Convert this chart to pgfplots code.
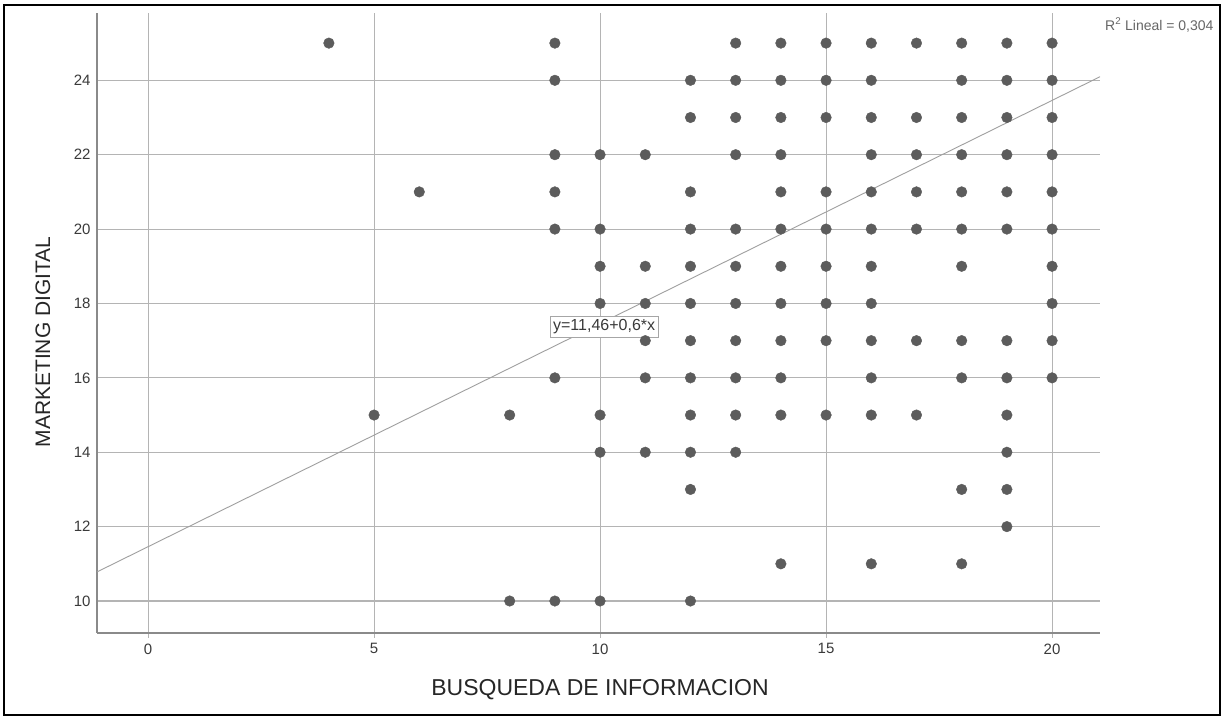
\documentclass[border=0pt]{standalone}
\usepackage{fontspec}
\setmainfont{Liberation Sans}
\usepackage{pgfplots}
\pgfplotsset{compat=1.18}
\definecolor{dotgray}{HTML}{5C5C5C}
\definecolor{gridgray}{HTML}{B4B4B4}
\definecolor{axgray}{HTML}{8A8A8A}
\definecolor{txtgray}{HTML}{3A3A3A}
\pgfplotstableread{
x y
4 25
9 25
13 25
14 25
15 25
16 25
17 25
18 25
19 25
20 25
9 24
12 24
13 24
14 24
15 24
16 24
18 24
19 24
20 24
12 23
13 23
14 23
15 23
16 23
17 23
18 23
19 23
20 23
9 22
10 22
11 22
13 22
14 22
16 22
17 22
18 22
19 22
20 22
6 21
9 21
12 21
14 21
15 21
16 21
17 21
18 21
19 21
20 21
9 20
10 20
12 20
13 20
14 20
15 20
16 20
17 20
18 20
19 20
20 20
10 19
11 19
12 19
13 19
14 19
15 19
16 19
18 19
20 19
10 18
11 18
12 18
13 18
14 18
15 18
16 18
20 18
11 17
12 17
13 17
14 17
15 17
16 17
17 17
18 17
19 17
20 17
9 16
11 16
12 16
13 16
14 16
16 16
18 16
19 16
20 16
5 15
8 15
10 15
12 15
13 15
14 15
15 15
16 15
17 15
19 15
10 14
11 14
12 14
13 14
19 14
12 13
18 13
19 13
19 12
14 11
16 11
18 11
8 10
9 10
10 10
12 10
}\pts
\begin{document}
\begin{tikzpicture}
\useasboundingbox (0,0) rectangle (1225pt,719pt);
\fill[white] (0,0) rectangle (1225pt,719pt);
\draw[line width=2pt,black] (4pt,4pt) rectangle (1220pt,714pt);
\begin{axis}[
  at={(97pt,86pt)}, anchor=south west,
  scale only axis, width=1003pt, height=620pt,
  xmin=-1.13, xmax=21.06, ymin=9.14, ymax=25.81,
  axis x line*=bottom, axis y line*=left,
  axis line style={-, draw=axgray, line width=2pt},
  xtick={0,5,10,15,20}, ytick={10,12,14,16,18,20,22,24},
  grid=major, major grid style={gridgray, line width=1.1pt},
  tick align=outside, major tick length=5pt,
  tick style={gridgray, line width=1.1pt},
  ytick style={draw=none},
  ticklabel style={font=\fontsize{15}{17}\selectfont, text=txtgray},
  xticklabel style={yshift=-2pt},
  yticklabel style={xshift=2pt},
  /pgf/number format/assume math mode=true,
  clip=false,
]
\addplot[only marks, mark=*, mark size=5.3pt, mark options={fill=dotgray, draw=dotgray}] table[x=x,y=y] {\pts};
\addplot[gray!75, line width=0.9pt] coordinates {(-1.13,10.782) (21.06,24.096)};
\node[draw=gray!70, fill=white, inner sep=3pt, font=\fontsize{16}{18}\selectfont, text=txtgray] at (axis cs:10.09,17.37) {y=11,46+0,6*x};
\end{axis}
\node[font=\fontsize{23}{26}\selectfont, text=black!85] at (600pt,29pt) {BUSQUEDA DE INFORMACION};
\node[font=\fontsize{21}{24}\selectfont, text=black!85, rotate=90] at (43pt,377pt) {MARKETING DIGITAL};
\node[font=\fontsize{14}{16}\selectfont, text=gray!80!black, anchor=east] at (1217pt,694pt) {R\textsuperscript{2} Lineal = 0,304};
\end{tikzpicture}
\end{document}
